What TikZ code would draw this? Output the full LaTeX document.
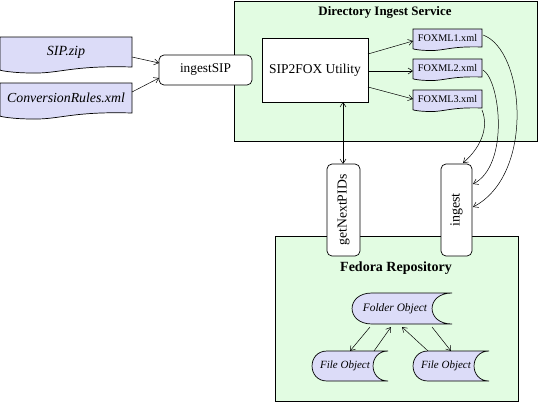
\documentclass[tikz,border=0pt]{standalone}
\usepackage{fontspec}
\setmainfont{Liberation Serif}
\usetikzlibrary{calc,arrows.meta}
\definecolor{grn}{HTML}{E2FCE2}
\definecolor{lav}{HTML}{DCDCF8}
\pgfdeclarelayer{bg}
\pgfdeclarelayer{mid}
\pgfsetlayers{bg,mid,main}
\newcommand\fsz[1]{\fontsize{#1}{#1}\selectfont}
\newcommand\docshape[2]{%
 \draw[docfill] (#1.north west) -- (#1.north east) -- (#1.south east)
  .. controls ($(#1.south east)!0.45!(#1.south west)+(0,-0.3*#2)$) and ($(#1.south east)!0.55!(#1.south west)+(0,1.1*#2)$) .. ($(#1.south east)!0.75!(#1.south west)+(0,#2)$)
  .. controls ($(#1.south east)!0.9!(#1.south west)+(0,#2)$) and ($(#1.south west)+(0,0.6*#2)$) .. ($(#1.south west)+(0,0.5*#2)$) -- cycle;}
\newcommand\storedshape[2]{%
 \draw[docfill] ($(#1.north west)+(#2,0)$) -- (#1.north east)
  .. controls ($(#1.north east)+(-1.33*#2,0)$) and ($(#1.south east)+(-1.33*#2,0)$) .. (#1.south east)
  -- ($(#1.south west)+(#2,0)$)
  .. controls ($(#1.south west)+(-0.33*#2,0)$) and ($(#1.north west)+(-0.33*#2,0)$) .. ($(#1.north west)+(#2,0)$) -- cycle;}
\tikzset{
 every node/.style={inner sep=0pt, outer sep=0pt},
 area/.style={draw=black, fill=grn, line width=0.8pt},
 box/.style={draw=black, fill=white, line width=0.7pt},
 rbox/.style={box, rounded corners=5pt},
 docfill/.style={draw=black, fill=lav, line width=0.7pt},
 conn/.style={line width=0.5pt, -{Straight Barb[length=4.5pt,width=6pt]}},
 bothconn/.style={line width=0.5pt, {Straight Barb[length=4.5pt,width=6pt]}-{Straight Barb[length=4.5pt,width=6pt]}},
}
\begin{document}
\begin{tikzpicture}[x=1pt,y=-1pt]
\useasboundingbox (0,0) rectangle (538,402);
\begin{pgfonlayer}{bg}
\node[area, minimum width=303, minimum height=140] (dis) at (385.5,71) {};
\node[area, minimum width=243, minimum height=165] (fedora) at (396.5,318.5) {};
\end{pgfonlayer}
\node (distitle) at (385,12) {\fsz{12.9}\bfseries Directory Ingest Service};
\node (fedtitle) at (396,268) {\fsz{14}\bfseries Fedora Repository};
% documents
\node[minimum width=132, minimum height=30] (sip) at (66,52) {\fsz{14}\itshape SIP.zip};
\node[minimum width=132, minimum height=30] (conv) at (66,98) {\fsz{13.8}\itshape ConversionRules.xml};
\node[minimum width=69, minimum height=18] (fox1) at (447.5,38) {\fsz{10.2}FOXML1.xml};
\node[minimum width=69, minimum height=18] (fox2) at (447.5,68) {\fsz{10.2}FOXML2.xml};
\node[minimum width=69, minimum height=18] (fox3) at (447.5,99) {\fsz{10.2}FOXML3.xml};
\node[minimum width=100, minimum height=31] (folder) at (402,308.5) {\fsz{11.4}\itshape Folder Object\kern14pt};
\node[minimum width=76, minimum height=30] (file1) at (350,366) {\fsz{11}\itshape File Object\kern10pt};
\node[minimum width=76, minimum height=30] (file2) at (451,366) {\fsz{11}\itshape File Object\kern10pt};
\begin{pgfonlayer}{mid}
\docshape{sip}{6}
\docshape{conv}{6}
\docshape{fox1}{3.5}
\docshape{fox2}{3.5}
\docshape{fox3}{3.5}
\storedshape{folder}{20}
\storedshape{file1}{15}
\storedshape{file2}{15}
\end{pgfonlayer}
% boxes
\node[rbox, minimum width=93, minimum height=30] (isip) at (205.5,70) {\fsz{13.3}ingestSIP};
\node[box, minimum width=106, minimum height=64] (s2f) at (315,70) {\fsz{13.5}SIP2FOX Utility};
\node[rbox, minimum width=33, minimum height=92] (gnp) at (343.5,210) {\rotatebox{90}{\fsz{13.7}getNextPIDs}};
\node[rbox, minimum width=31, minimum height=92] (ingest) at (456.5,210) {\rotatebox{90}{\fsz{14}ingest}};
% connectors
\draw[conn] ($(sip.east)+(0,5)$) -- ($(isip.west)+(0,-7)$);
\draw[conn] ($(conv.east)+(0,-6)$) -- ($(isip.west)+(0,8)$);
\draw[conn] ($(s2f.east)+(0,-16)$) -- ($(fox1.west)+(0,3)$);
\draw[conn] ($(s2f.east)+(0,1)$) -- ($(fox2.west)+(0,3)$);
\draw[conn] ($(s2f.east)+(0,17)$) -- ($(fox3.west)+(0,0)$);
\draw[bothconn] ($(s2f.south)+(28,0)$) -- ($(gnp.north)+(-0.5,0)$);
\draw[conn] ($(fox1.east)+(1,-3)$) .. controls +(42,15) and +(62,-32) .. ($(ingest.east)+(1,-3)$);
\draw[conn] ($(fox2.east)+(1,2)$) .. controls +(17,10) and +(37,-19) .. ($(ingest.east)+(1,-26)$);
\draw[conn] ($(fox3.south east)+(0,2)$) .. controls +(8,20) and +(15,-13) .. ($(ingest.north)+(6.5,-1)$);
\draw[conn] ($(folder.south)+(-32,3)$) -- (file1.north);
\draw[conn] ($(file1.north)+(24,0)$) -- ($(folder.south)+(-11,3)$);
\draw[conn] ($(file2.north)+(-23,0)$) -- ($(folder.south)+(0,3)$);
\draw[conn] ($(folder.south)+(30,3)$) -- (file2.north);
\end{tikzpicture}
\end{document}
